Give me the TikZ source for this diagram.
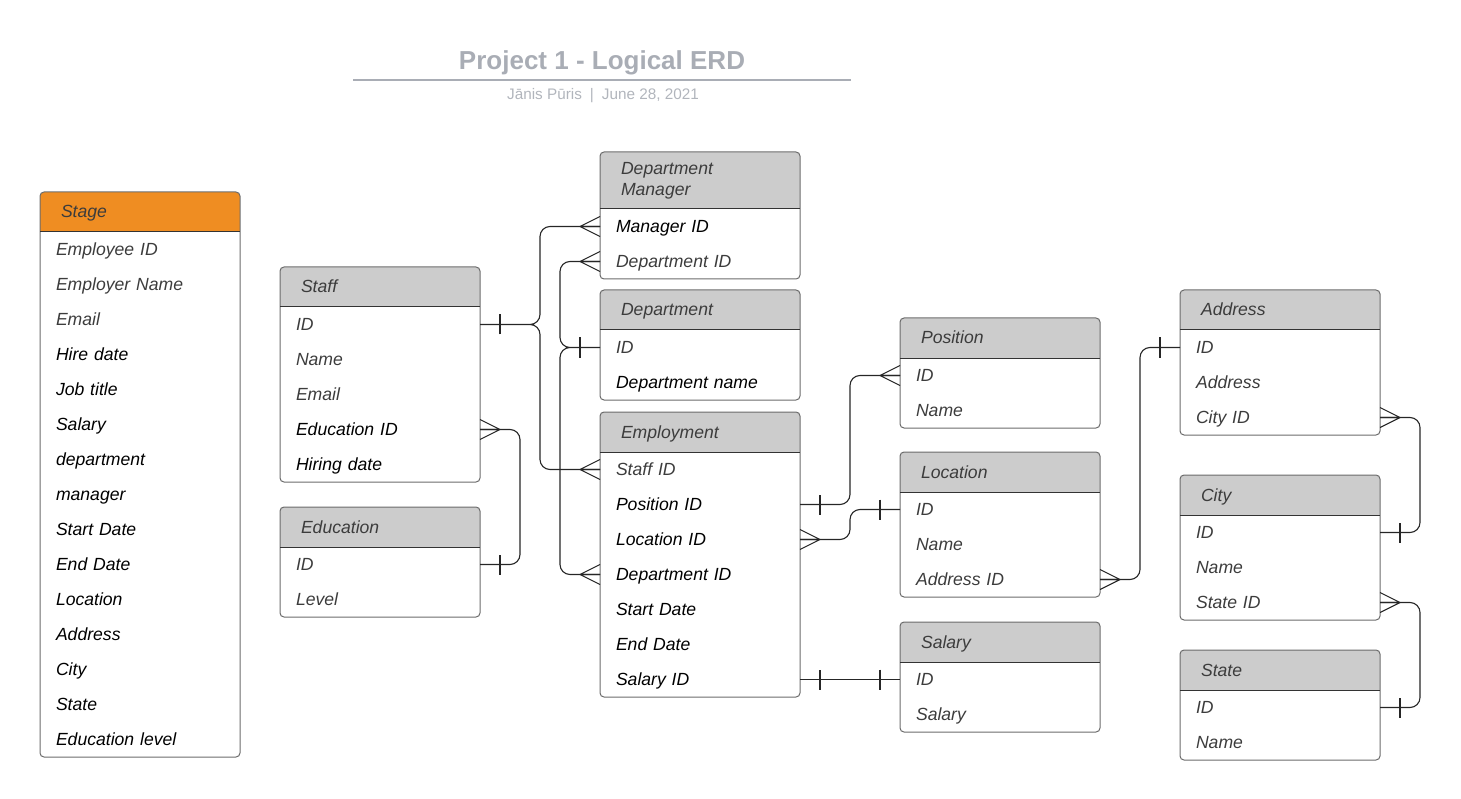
\documentclass[tikz,border=0pt]{standalone}
\usepackage{fontspec}
\setmainfont{Liberation Sans}
\usetikzlibrary{calc}

\definecolor{headgrey}{HTML}{CCCCCC}
\definecolor{stageorange}{HTML}{EF8D22}
\definecolor{boxline}{HTML}{6B6B6B}
\definecolor{fieldgrey}{HTML}{3C3C3C}
\definecolor{titlegrey}{HTML}{A9ADB5}

\tikzset{
  box/.style={draw=boxline, line width=1pt, rounded corners=4pt},
  head fill/.style={fill=headgrey},
  head/.style={text width=158pt, inner xsep=21pt, inner ysep=0pt, outer sep=0pt,
    align=left, font=\fontsize{17.6}{21}\selectfont\itshape, text=fieldgrey,
    text height=12pt, text depth=0pt},
  field/.style={text width=168pt, inner xsep=16pt, inner ysep=0pt, outer sep=0pt,
    minimum height=35pt, align=left, font=\fontsize{17.6}{21}\selectfont\itshape,
    text height=11.5pt, text depth=0pt},
  g/.style={text=fieldgrey},
  k/.style={text=black},
  rel/.style={draw=black!85, line width=1.1pt, rounded corners=10pt},
  crow/.pic={\draw[rel] (-20,0) -- (0,-10) (-20,0) -- (0,0) (-20,0) -- (0,10);},
  one/.pic={\draw[rel] (-20,-10) -- (-20,10);},
}

% entity table: [header style]{name}{x}{y}{header height}{header}{tone/field,...}
\newcommand{\erdtable}[7][]{%
  \coordinate (#2) at (#3,#4);
  \foreach \tone/\fname [count=\i] in {#7} {\xdef\rows{\i}}
  \begin{scope}
    \clip[rounded corners=4pt] (#3,#4) rectangle ({#3+200},{#4+#5+35*\rows});
    \fill[head fill] (#3,#4) rectangle ({#3+200},{#4+#5});
  \end{scope}
  \draw[box] (#3,#4) rectangle ({#3+200},{#4+#5+35*\rows});
  \draw[black!80, line width=1pt] (#3,{#4+#5}) -- ({#3+200},{#4+#5});
  \node[head,#1] (#2-head) at ({#3+100},{#4+#5/2}) {#6};
  \foreach \tone/\fname [count=\i] in {#7}
    \node[field,\tone] (#2-\i) at ({#3+100},{#4+#5+35*\i-17.5}) {\fname};
}

\begin{document}
\begin{tikzpicture}[x=1pt,y=-1pt]
  \useasboundingbox (0,0) rectangle (1461,799);

  % title
  \node[font=\fontsize{26}{30}\selectfont\bfseries, text=titlegrey, anchor=base]
    (title) at (602,70) {Project 1 - Logical ERD};
  \draw[titlegrey, line width=2pt] (353,80) -- (851,80);
  \node[font=\fontsize{15.3}{18}\selectfont, text=titlegrey!90, anchor=base]
    (subtitle) at (603,100) {Jānis Pūris\hspace{8pt}|\hspace{8pt}June 28, 2021};

  % tables
  \begin{scope}[head fill/.style={fill=stageorange}]
    \erdtable{stage}{40}{192}{40}{Stage}{g/Employee ID, g/Employer Name, g/Email,
      k/Hire date, k/Job title, k/Salary, k/department, k/manager, k/Start Date,
      k/End Date, k/Location, k/Address, k/City, k/State, k/Education level}
  \end{scope}
  \erdtable{staff}{280}{267}{40}{Staff}{g/ID, g/Name, g/Email, k/Education ID, k/Hiring date}
  \erdtable{edu}{280}{507}{40}{Education}{g/ID, g/Level}
  \erdtable[text depth=24pt]{dmgr}{600}{152}{57}{Department\\Manager}{k/Manager ID, g/Department ID}
  \erdtable{dept}{600}{290}{40}{Department}{g/ID, k/Department name}
  \erdtable{emp}{600}{412}{40}{Employment}{g/Staff ID, k/Position ID, k/Location ID,
    k/Department ID, k/Start Date, k/End Date, k/Salary ID}
  \erdtable{pos}{900}{318}{40}{Position}{g/ID, g/Name}
  \erdtable{loc}{900}{452}{40}{Location}{g/ID, g/Name, g/Address ID}
  \erdtable{sal}{900}{622}{40}{Salary}{g/ID, g/Salary}
  \erdtable{addr}{1180}{290}{40}{Address}{g/ID, g/Address, g/City ID}
  \erdtable{city}{1180}{475}{40}{City}{g/ID, g/Name, g/State ID}
  \erdtable{state}{1180}{650}{40}{State}{g/ID, g/Name}

  % relations
  \draw[rel] (staff-1.east) -- ++(60,0) |- (dmgr-1.west)
             (staff-1.east) -- ++(60,0) |- (emp-1.west);
  \draw[rel] (dept-1.west) -- ++(-40,0) |- (dmgr-2.west)
             (dept-1.west) -- ++(-40,0) |- (emp-4.west);
  \draw[rel] (staff-4.east) -- ++(40,0) |- (edu-1.east);
  \draw[rel] (emp-2.east) -- ++(50,0) |- (pos-1.west);
  \draw[rel] (emp-3.east) -- ++(50,0) |- (loc-1.west);
  \draw[rel] (emp-7.east) -- (sal-1.west);
  \draw[rel] (loc-3.east) -- ++(40,0) |- (addr-1.west);
  \draw[rel] (addr-3.east) -- ++(40,0) |- (city-1.east);
  \draw[rel] (city-3.east) -- ++(40,0) |- (state-1.east);

  % ends
  \pic[rotate=180] at (staff-1.east) {one};
  \pic at (dmgr-1.west) {crow};
  \pic at (emp-1.west) {crow};
  \pic at (dept-1.west) {one};
  \pic at (dmgr-2.west) {crow};
  \pic at (emp-4.west) {crow};
  \pic[rotate=180] at (staff-4.east) {crow};
  \pic[rotate=180] at (edu-1.east) {one};
  \pic[rotate=180] at (emp-2.east) {one};
  \pic at (pos-1.west) {crow};
  \pic[rotate=180] at (emp-3.east) {crow};
  \pic at (loc-1.west) {one};
  \pic[rotate=180] at (emp-7.east) {one};
  \pic at (sal-1.west) {one};
  \pic[rotate=180] at (loc-3.east) {crow};
  \pic at (addr-1.west) {one};
  \pic[rotate=180] at (addr-3.east) {crow};
  \pic[rotate=180] at (city-1.east) {one};
  \pic[rotate=180] at (city-3.east) {crow};
  \pic[rotate=180] at (state-1.east) {one};
\end{tikzpicture}
\end{document}
